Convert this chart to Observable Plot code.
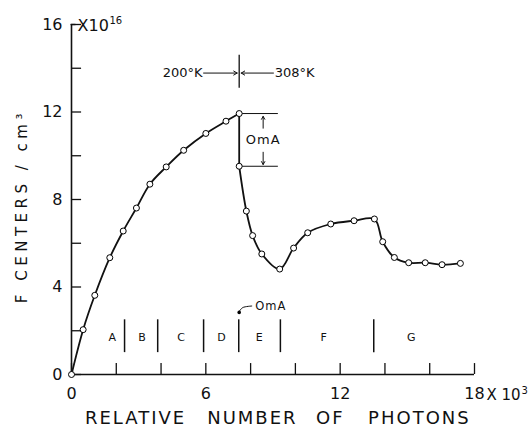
<!DOCTYPE html>
<html><head><meta charset="utf-8">
<script src="https://cdn.jsdelivr.net/npm/d3@7"></script>
<script src="https://cdn.jsdelivr.net/npm/@observablehq/plot@0.6"></script>
<style>body{margin:0;background:#fff}</style>
</head><body><div id="chart"></div>
<script>
// Irradiation at 200°K (growth) then 308°K (bleach / regrowth)
const warmX = [0, 0.52, 1.04, 1.71, 2.31, 2.90, 3.50, 4.23, 5.01, 6.00, 6.90, 7.49];
const warmY = [0, 2.05, 3.62, 5.34, 6.56, 7.61, 8.70, 9.49, 10.25, 11.02, 11.58, 11.93];
const hotX = [7.49, 7.81, 8.09, 8.50, 9.30, 9.92, 10.55, 11.58, 12.62, 13.53, 13.90, 14.42, 15.06, 15.80, 16.55, 17.37];
const hotY = [9.52, 7.47, 6.35, 5.51, 4.82, 5.78, 6.48, 6.88, 7.03, 7.11, 6.07, 5.35, 5.11, 5.11, 5.02, 5.08];

const regionNames = ["A", "B", "C", "D", "E", "F", "G"];
const regionCenters = [1.82, 3.15, 4.90, 6.70, 8.39, 11.26, 15.18];
const regionBounds = [2.37, 3.85, 5.90, 7.47, 9.33, 13.50];

const xTicks = [0, 2, 4, 6, 8, 10, 12, 14, 16, 18];
const xTickLabels = [0, 6, 12, 18];
const yTicks = [0, 2, 4, 6, 8, 10, 12, 14, 16];
const yTickLabels = [0, 4, 8, 12, 16];

const warm = warmX.map((x, i) => ({x, y: warmY[i]}));
const hot = hotX.map((x, i) => ({x, y: hotY[i]}));
const drop = [warm[warm.length - 1], hot[0]];
const allPts = warm.concat(hot);

const xTitleWords = ["RELATIVE", "NUMBER", "OF", "PHOTONS"];
const xTitlePos = [2.86, 8.08, 11.56, 15.54];
const yTitle = "F CENTERS / cm³";

const chart = Plot.plot({
  width: 530, height: 432,
  marginLeft: 71, marginRight: 56, marginTop: 24, marginBottom: 58,
  x: {domain: [0, 18]},
  y: {domain: [0, 16]},
  style: {fontFamily: "DejaVu Sans", fontSize: "16px", color: "#111", background: "white"},
  marks: [
    // axes lines and inward ticks
    Plot.ruleY([0], {x1: 0, x2: 18, strokeWidth: 1.6}),
    Plot.ruleX([0], {y1: 0, y2: 16, strokeWidth: 1.6}),
    Plot.ruleY([16], {x1: -0.02, x2: 0.2, strokeWidth: 1.4}),
    Plot.ruleX(xTicks, {y1: 0, y2: 0.5, strokeWidth: 1.3}),
    Plot.ruleY(yTicks, {x1: 0, x2: 0.45, strokeWidth: 1.3}),
    Plot.axisY({ticks: yTickLabels, tickSize: 0, tickPadding: 9, label: null, fontSize: 16}),
    Plot.axisX({ticks: xTickLabels, tickSize: 0, tickPadding: 13, label: null, fontSize: 16}),
    Plot.text(["X 10"], {x: 18, y: 0, dx: 12, dy: 21, textAnchor: "start", fontSize: 15}),
    Plot.text(["3"], {x: 18, y: 0, dx: 47, dy: 16, textAnchor: "start", fontSize: 10}),
    Plot.text(["X10"], {x: 0, y: 16, dx: 6, dy: 1, textAnchor: "start", fontSize: 16}),
    Plot.text(["16"], {x: 0, y: 16, dx: 38, dy: -4, textAnchor: "start", fontSize: 10}),
    // axis titles
    Plot.text(xTitleWords, {x: (d, i) => xTitlePos[i], y: 0, dy: 44, fontSize: 18}),
    Plot.text([yTitle], {x: -2.19, y: 7.7, rotate: -90, fontSize: 15}),
    // region labels
    Plot.ruleX(regionBounds, {y1: 1.0, y2: 2.5, strokeWidth: 1.5}),
    Plot.text(regionNames, {x: (d, i) => regionCenters[i], y: 1.7, fontSize: 11}),
    // OmA marker near x axis
    Plot.dot([[7.49, 2.84]], {x: d => d[0], y: d => d[1], r: 1.8, fill: "black"}),
    Plot.line([[7.5, 2.9], [7.65, 3.06], [8.05, 3.13]], {x: d => d[0], y: d => d[1], curve: "catmull-rom", strokeWidth: 1}),
    Plot.text(["OmA"], {x: 8.21, y: 3.11, textAnchor: "start", fontSize: 11.5}),
    // temperature change marker
    Plot.ruleX([7.49], {y1: 13.09, y2: 14.6, strokeWidth: 1.3}),
    Plot.arrow([{x1: 5.9, x2: 7.4, y: 13.78}], {x1: "x1", x2: "x2", y1: "y", y2: "y", headLength: 6, strokeWidth: 1}),
    Plot.arrow([{x1: 9.02, x2: 7.58, y: 13.78}], {x1: "x1", x2: "x2", y1: "y", y2: "y", headLength: 6, strokeWidth: 1}),
    Plot.text(["200°K"], {x: 5.85, y: 13.78, textAnchor: "end", fontSize: 13}),
    Plot.text(["308°K"], {x: 9.08, y: 13.78, textAnchor: "start", fontSize: 13}),
    // OmA bracket
    Plot.ruleY([11.93, 9.52], {x1: 7.49, x2: 9.24, strokeWidth: 1}),
    Plot.arrow([{x: 8.56, a: 11.26, b: 11.8}, {x: 8.56, a: 10.16, b: 9.6}], {x1: "x", x2: "x", y1: "a", y2: "b", headLength: 5, strokeWidth: 1}),
    Plot.text(["OmA"], {x: 8.56, y: 10.71, fontSize: 13}),
    // data curve
    Plot.line(warm, {x: "x", y: "y", curve: "catmull-rom", strokeWidth: 1.8}),
    Plot.line(drop, {x: "x", y: "y", strokeWidth: 1.8}),
    Plot.line(hot, {x: "x", y: "y", curve: "catmull-rom", strokeWidth: 1.8}),
    Plot.dot(allPts, {x: "x", y: "y", r: 3, fill: "white", stroke: "black", strokeWidth: 1})
  ]
});
const texts = d3.select(chart).selectAll("text");
texts.filter(function () { return xTitleWords.includes(this.textContent); }).attr("letter-spacing", "2px");
texts.filter(function () { return this.textContent === yTitle; }).attr("letter-spacing", "4.5px");
texts.filter(function () { return this.textContent === "OmA"; }).attr("letter-spacing", "1px");
document.getElementById("chart").appendChild(chart);
</script>
</body></html>
